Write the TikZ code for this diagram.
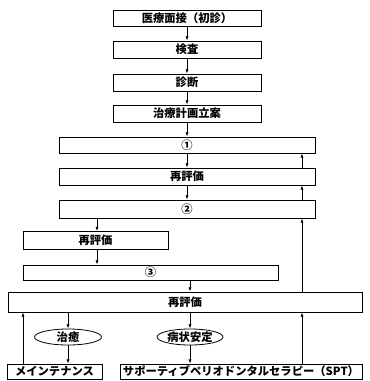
\documentclass[tikz,border=0pt]{standalone}
\usepackage{fontspec}
\newfontfamily\jpfont{Noto Sans CJK JP}
\usetikzlibrary{arrows.meta,positioning,shapes.geometric,calc}

\begin{document}
\begin{tikzpicture}[
  x=1pt, y=-1pt,
  every node/.style={font=\jpfont\bfseries\fontsize{11.3}{12}\selectfont, inner sep=0pt},
  box/.style={rectangle, draw, line width=0.8pt, minimum height=17pt},
  oval/.style={ellipse, draw, line width=0.8pt, minimum width=67pt, minimum height=16pt},
  arr/.style={-{Latex[length=1.5mm, width=1.1mm]}, line width=0.8pt}
]
  \useasboundingbox (0,0) rectangle (370,381);

  % upper column
  \node[box, minimum width=148pt, minimum height=16pt] (visit) at (187,18) {医療面接（初診）};
  \node[box, minimum width=148pt] (exam) at (187,49.5) {検査};
  \node[box, minimum width=148pt] (diag) at (187,82.5) {診断};
  \node[box, minimum width=148pt] (plan) at (187,113.5) {治療計画立案};

  % treatment stages
  \node[box, minimum width=256pt, minimum height=16pt] (stage1) at (187,145) {①};
  \node[box, minimum width=256pt] (reval1) at (187,176.5) {再評価};
  \node[box, minimum width=256pt, minimum height=18pt] (stage2) at (187,209) {②};
  \node[box, minimum width=145pt, minimum height=18pt] (reval2) at (95.5,240.5) {再評価};
  \node[box, minimum width=255pt, minimum height=15pt] (stage3) at (150.5,272.5) {③};
  \node[box, minimum width=354pt, minimum height=20pt] (reval3) at (185,302) {再評価};

  % outcome
  \node[oval] (cure) at (68,337) {治癒};
  \node[oval, minimum width=66pt] (stable) at (190,337) {病状安定};
  \node[box, minimum width=95pt, minimum height=15pt] (maint) at (54.5,371.5) {メインテナンス};
  \node[box, minimum width=242pt, minimum height=15pt] (spt) at (241,371.5) {サポーティブペリオドンタルセラピー（SPT）};

  \coordinate (rline) at (302,0);
  \coordinate (lline) at (23,0);
  \coordinate (mline) at (97,0);

  \draw[arr] (visit) -- (exam);
  \draw[arr] (exam) -- (diag);
  \draw[arr] (diag) -- (plan);
  \draw[arr] (plan) -- (stage1);
  \draw[arr] (stage1) -- (reval1);
  \draw[arr] (reval1) -- (stage2);
  \draw[arr] (stage2.south -| mline) -- (reval2.north -| mline);
  \draw[arr] (reval2.south -| mline) -- (stage3.north -| mline);
  \draw[arr] (stage3.south -| stable) -- (reval3.north -| stable);

  % way back on the right
  \draw[arr] (reval3.north -| rline) -- (stage2.south -| rline);
  \draw[arr] (stage2.north -| rline) -- (reval1.south -| rline);
  \draw[arr] (reval1.north -| rline) -- (stage1.south -| rline);

  \draw[arr] (reval3.south -| cure) -- (cure);
  \draw[arr] (cure) -- (maint.north -| cure);
  \draw[arr] (reval3.south -| stable) -- (stable);
  \draw[arr] (stable) -- (spt.north -| stable);
  \draw[arr] (maint.north -| lline) -- (reval3.south -| lline);
  \draw[arr] (spt.north -| rline) -- (reval3.south -| rline);
\end{tikzpicture}
\end{document}
